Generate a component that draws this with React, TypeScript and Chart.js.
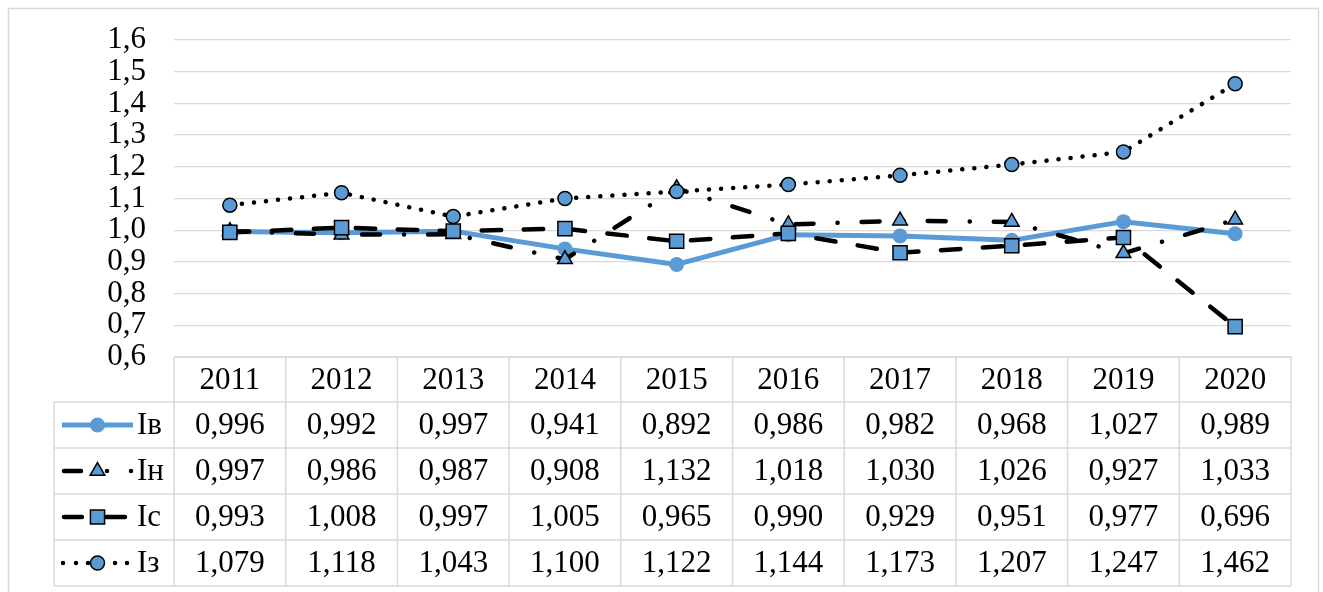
import React, { useEffect, useRef } from 'react';
import { Chart, registerables } from 'chart.js';

Chart.register(...registerables);

const years = ['2011', '2012', '2013', '2014', '2015', '2016', '2017', '2018', '2019', '2020'];
const seriesIv = [0.996, 0.992, 0.997, 0.941, 0.892, 0.986, 0.982, 0.968, 1.027, 0.989];
const seriesIn = [0.997, 0.986, 0.987, 0.908, 1.132, 1.018, 1.03, 1.026, 0.927, 1.033];
const seriesIc = [0.993, 1.008, 0.997, 1.005, 0.965, 0.99, 0.929, 0.951, 0.977, 0.696];
const seriesIz = [1.079, 1.118, 1.043, 1.1, 1.122, 1.144, 1.173, 1.207, 1.247, 1.462];
const seriesNames = ['Iв', 'Iн', 'Iс', 'Iз'];
const yMin = 0.6;
const yMax = 1.6;
const yStep = 0.1;

const BLUE = '#5B9BD5';
const GRID = '#D9D9D9';
const FONT = '"Liberation Serif", "Times New Roman", serif';

const fmt3 = (v: number) => v.toFixed(3).replace('.', ',');

type Style = {
  color: string;
  width: number;
  dash: number[];
  marker: 'circle' | 'triangle' | 'rect';
  radius: number;
  markerBorder: string;
  markerBorderWidth: number;
};

const styles: Style[] = [
  { color: BLUE, width: 5, dash: [], marker: 'circle', radius: 7.5, markerBorder: BLUE, markerBorderWidth: 0 },
  { color: '#000', width: 4.5, dash: [18, 24, 0.1, 24], marker: 'triangle', radius: 8.5, markerBorder: '#000', markerBorderWidth: 1.5 },
  { color: '#000', width: 4.5, dash: [19.5, 22.5], marker: 'rect', radius: 10, markerBorder: '#000', markerBorderWidth: 1.5 },
  { color: '#000', width: 4.5, dash: [0.1, 12], marker: 'circle', radius: 7, markerBorder: '#000', markerBorderWidth: 1.5 },
];

// legend key pieces: [x1, x2] segments and dot positions (relative to key start)
const legendSegments: number[][][] = [
  [[0, 71]],
  [[2, 19]],
  [[2, 20], [44, 63]],
  [],
];
const legendDots: number[][] = [[], [45, 69], [], [1, 14, 26, 53, 65]];

function drawMarker(ctx: CanvasRenderingContext2D, s: Style, x: number, y: number) {
  ctx.save();
  ctx.setLineDash([]);
  ctx.beginPath();
  const r = s.radius;
  if (s.marker === 'circle') {
    ctx.arc(x, y, r, 0, Math.PI * 2);
  } else if (s.marker === 'triangle') {
    const w = Math.sin(Math.PI / 3) * r;
    ctx.moveTo(x, y - r);
    ctx.lineTo(x + w, y + r / 2);
    ctx.lineTo(x - w, y + r / 2);
    ctx.closePath();
  } else {
    const h = Math.SQRT1_2 * r;
    ctx.rect(x - h, y - h, 2 * h, 2 * h);
  }
  ctx.fillStyle = BLUE;
  ctx.fill();
  if (s.markerBorderWidth > 0) {
    ctx.lineWidth = s.markerBorderWidth;
    ctx.strokeStyle = s.markerBorder;
    ctx.stroke();
  }
  ctx.restore();
}

const allSeries = [seriesIv, seriesIn, seriesIc, seriesIz];

const framePlugin = {
  id: 'frame',
  beforeDraw(chart: any) {
    const ctx = chart.ctx as CanvasRenderingContext2D;
    ctx.save();
    ctx.strokeStyle = GRID;
    ctx.lineWidth = 1.5;
    ctx.strokeRect(8.5, 8.5, 1310, 600);
    ctx.restore();
  },
};

const tablePlugin = {
  id: 'dataTable',
  afterDraw(chart: any) {
    const ctx = chart.ctx as CanvasRenderingContext2D;
    const area = chart.chartArea;
    const x = chart.scales.x;
    const n = years.length;
    const colW = (area.right - area.left) / n;
    const top = area.bottom;
    const headerH = 45;
    const rowH = 46;
    const legendLeft = 54;
    const bottom = top + headerH + rowH * allSeries.length;

    ctx.save();
    ctx.strokeStyle = GRID;
    ctx.lineWidth = 1.5;
    ctx.setLineDash([]);
    ctx.beginPath();
    ctx.moveTo(area.left, top);
    ctx.lineTo(area.right, top);
    for (let r = 0; r <= allSeries.length; r++) {
      const yy = top + headerH + rowH * r;
      ctx.moveTo(legendLeft, yy);
      ctx.lineTo(area.right, yy);
    }
    ctx.moveTo(legendLeft, top + headerH);
    ctx.lineTo(legendLeft, bottom);
    for (let i = 0; i <= n; i++) {
      const xx = i < n ? x.getPixelForValue(i) - colW / 2 : x.getPixelForValue(n - 1) + colW / 2;
      ctx.moveTo(xx, top);
      ctx.lineTo(xx, bottom);
    }
    ctx.stroke();

    ctx.fillStyle = '#000';
    ctx.font = `31px ${FONT}`;
    ctx.textAlign = 'center';
    ctx.textBaseline = 'middle';
    years.forEach((yr, i) => {
      ctx.fillText(yr, x.getPixelForValue(i), top + headerH / 2 + 1);
    });
    allSeries.forEach((arr, r) => {
      const cy = top + headerH + rowH * r + rowH / 2 + 1;
      arr.forEach((v, i) => {
        ctx.fillText(fmt3(v), x.getPixelForValue(i), cy);
      });
    });

    const keyX = 62;
    allSeries.forEach((_, r) => {
      const s = styles[r];
      const cy = top + headerH + rowH * r + rowH / 2;
      ctx.save();
      ctx.strokeStyle = s.color;
      ctx.lineWidth = s.width;
      ctx.lineCap = r === 0 ? 'butt' : 'round';
      ctx.beginPath();
      legendSegments[r].forEach(([a, b]) => {
        ctx.moveTo(keyX + a, cy);
        ctx.lineTo(keyX + b, cy);
      });
      ctx.stroke();
      ctx.fillStyle = s.color;
      legendDots[r].forEach((d) => {
        ctx.beginPath();
        ctx.arc(keyX + d, cy, s.width / 2, 0, Math.PI * 2);
        ctx.fill();
      });
      ctx.restore();
      drawMarker(ctx, s, 97.5, cy);
      ctx.fillStyle = '#000';
      ctx.textAlign = 'left';
      ctx.fillText(seriesNames[r], 137, cy + 1);
    });
    ctx.restore();
  },
};

export default function App() {
  const ref = useRef<HTMLCanvasElement | null>(null);

  useEffect(() => {
    if (!ref.current) return;
    const orders = [3, 2, 1, 0];
    const chart = new Chart(ref.current, {
      type: 'line',
      data: {
        labels: years,
        datasets: allSeries.map((arr, i) => {
          const s = styles[i];
          return {
            label: seriesNames[i],
            data: arr,
            order: orders[i],
            borderColor: s.color,
            borderWidth: s.width,
            borderDash: s.dash,
            borderCapStyle: s.dash.length ? 'round' : 'butt',
            borderJoinStyle: 'round',
            tension: 0,
            fill: false,
            pointStyle: s.marker,
            pointRadius: s.radius,
            pointHoverRadius: s.radius,
            pointBackgroundColor: BLUE,
            pointBorderColor: s.markerBorder,
            pointBorderWidth: s.markerBorderWidth,
          } as any;
        }),
      },
      options: {
        animation: false,
        responsive: false,
        devicePixelRatio: 1,
        layout: { padding: { top: 40, right: 32, bottom: 235, left: 0 } },
        plugins: {
          legend: { display: false },
          tooltip: { enabled: false },
        },
        scales: {
          x: {
            type: 'category',
            offset: true,
            display: false,
          },
          y: {
            min: yMin,
            max: yMax,
            afterFit: (scale: any) => {
              scale.width = 174;
              scale.paddingTop = 0;
              scale.paddingBottom = 0;
            },
            border: { display: false },
            grid: { color: GRID, lineWidth: 1.3, drawTicks: false },
            ticks: {
              stepSize: yStep,
              autoSkip: false,
              padding: 28,
              color: '#000',
              font: { family: FONT, size: 31 },
              callback: (v: any) => Number(v).toFixed(1).replace('.', ','),
            },
          },
        },
      },
      plugins: [framePlugin, tablePlugin],
    });
    return () => chart.destroy();
  }, []);

  return (
    <div style={{ position: 'fixed', left: 0, top: 0, width: 1323, height: 592, background: '#fff' }}>
      <canvas ref={ref} width={1323} height={592} style={{ display: 'block' }} />
    </div>
  );
}
